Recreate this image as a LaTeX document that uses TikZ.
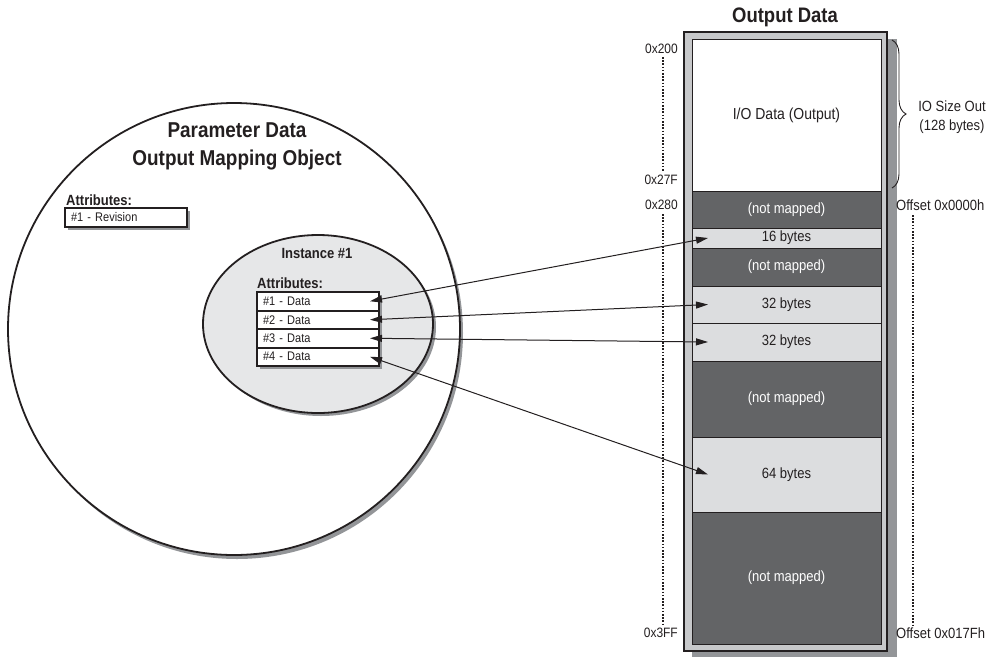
\documentclass[tikz,border=0pt]{standalone}
\usepackage{fontspec}
\setmainfont{Liberation Sans}[FakeStretch=0.88]
\usetikzlibrary{positioning,shapes.geometric,arrows.meta,decorations.pathreplacing,shadows}

\definecolor{inkdark}{HTML}{231F20}
\definecolor{memdark}{HTML}{636466}
\definecolor{memlight}{HTML}{DCDDDF}
\definecolor{instfill}{HTML}{E6E7E8}
\definecolor{shadowgray}{HTML}{939598}
\definecolor{framegray}{HTML}{C7C8CA}

\tikzset{
  txt/.style={text=inkdark, inner sep=0pt, font=\fontsize{14.8}{17}\selectfont},
  boldtxt/.style={txt, font=\bfseries\fontsize{14.8}{17}\selectfont},
  grayshadow/.style={drop shadow={shadow xshift=3pt, shadow yshift=-3pt, fill=shadowgray, opacity=1}},
  attrbox/.style={draw=inkdark, line width=2pt, fill=white, text=inkdark, inner xsep=6pt, inner ysep=0pt,
    text width=110pt, align=left, minimum height=18.5pt, outer sep=0pt, font=\fontsize{12.5}{14}\selectfont},
  segbase/.style={draw=inkdark, line width=0.8pt, minimum width=189pt, inner sep=0pt, outer sep=0pt,
    font=\fontsize{14.8}{17}\selectfont},
  notmapped/.style={segbase, fill=memdark, text=white},
  bytes/.style={segbase, fill=memlight, text=inkdark},
  addr/.style={txt, font=\fontsize{13.6}{15}\selectfont},
  link/.style={draw=inkdark, line width=1pt, {Triangle[length=12pt,width=7pt]}-{Triangle[length=12pt,width=7pt]}},
  addrline/.style={draw=inkdark, line width=1.3pt, dash pattern=on 1.6pt off 1.6pt}
}

\begin{document}
\begin{tikzpicture}[x=1pt, y=-1pt]
\useasboundingbox (0,0) rectangle (994,657);

% object circle
\node[circle, draw=inkdark, line width=1.8pt, fill=white, minimum size=452pt,
  drop shadow={shadow xshift=3pt, shadow yshift=-4pt, fill=shadowgray, opacity=1}] (pdobj) at (234,329) {};
\node[boldtxt, align=center, font=\bfseries\fontsize{21.5}{28}\selectfont] (pdtitle) at (237,146) {Parameter Data\\Output Mapping Object};
\node[boldtxt, anchor=west] (clsattr) at (66,200) {Attributes:};
\node[attrbox, grayshadow, anchor=north west] (rev) at (65,208) {\#1 - Revision};

% instance
\node[ellipse, draw=inkdark, line width=1.8pt, fill=instfill, minimum width=230pt, minimum height=178pt,
  drop shadow={shadow xshift=3pt, shadow yshift=-3pt, fill=shadowgray, opacity=1}] (inst) at (318,324) {};
\node[boldtxt] (insttitle) at (317,253) {Instance \#1};
\node[boldtxt, anchor=west] (instattr) at (257,283) {Attributes:};
\node[attrbox, grayshadow, anchor=north west] (d1) at (257,292) {\#1 - Data};
\node[attrbox, grayshadow, below=0pt of d1] (d2) {\#2 - Data};
\node[attrbox, grayshadow, below=0pt of d2] (d3) {\#3 - Data};
\node[attrbox, grayshadow, below=0pt of d3] (d4) {\#4 - Data};

% output data frame
\fill[shadowgray] (692,39) rectangle (897,657);
\draw[inkdark, line width=2pt, fill=framegray] (684,32) rectangle (887,651);
\node[boldtxt, font=\bfseries\fontsize{21}{22}\selectfont] (memtitle) at (785,17) {Output Data};

\node[segbase, fill=white, text=inkdark, minimum height=152pt, anchor=north west, font=\fontsize{15.9}{18}\selectfont] (io) at (692,39) {I/O Data (Output)};
\node[notmapped, minimum height=37pt, below=0pt of io] (nm1) {(not mapped)};
\node[bytes, minimum height=20pt, below=0pt of nm1] (b16) {16 bytes};
\node[notmapped, minimum height=38pt, below=0pt of b16] (nm2) {(not mapped)};
\node[bytes, minimum height=37pt, below=0pt of nm2] (b32a) {32 bytes};
\node[bytes, minimum height=38pt, below=0pt of b32a] (b32b) {32 bytes};
\node[notmapped, minimum height=76pt, below=0pt of b32b] (nm3) {(not mapped)};
\node[bytes, minimum height=75pt, below=0pt of nm3] (b64) {64 bytes};
\node[notmapped, minimum height=132pt, below=0pt of b64] (nm4) {(not mapped)};

% addresses
\node[addr, anchor=east] (a200) at (678,49) {0x200};
\node[addr, anchor=east] (a27f) at (678,180) {0x27F};
\node[addr, anchor=east] (a280) at (678,205) {0x280};
\node[addr, anchor=east] (a3ff) at (678,633) {0x3FF};
\draw[addrline] (663,57) -- (663,171);
\draw[addrline] (663,214) -- (663,625);

\node[txt, anchor=west] (off0) at (896,205) {Offset 0x0000h};
\node[txt, anchor=west] (off17f) at (896,633) {Offset 0x017Fh};
\draw[addrline] (913,215) -- (913,625);

% io size
\draw[inkdark, line width=0.9pt, decorate, decoration={brace, amplitude=14pt, aspect=0.5}] (892,40) -- (892,188);
\node[txt, align=center, font=\fontsize{14.8}{19}\selectfont] (iosize) at (952,117) {IO Size Out\\(128 bytes)};

% mappings
\draw[link] ([xshift=-9pt]d1.east) -- ([xshift=16pt]b16.west);
\draw[link] ([xshift=-9pt]d2.east) -- ([xshift=16pt]b32a.west);
\draw[link] ([xshift=-9pt]d3.east) -- ([xshift=16pt]b32b.west);
\draw[link] ([xshift=-9pt]d4.east) -- ([xshift=16pt]b64.west);
\end{tikzpicture}
\end{document}
